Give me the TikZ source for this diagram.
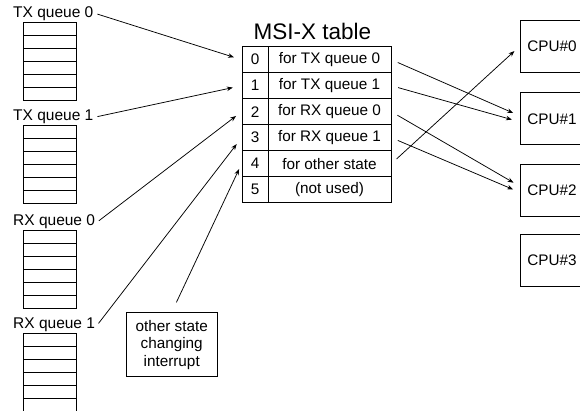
\documentclass[tikz,border=0pt]{standalone}
\usepackage{fontspec}
\setmainfont{Liberation Sans}
\usetikzlibrary{arrows.meta,calc}
\begin{document}
\begin{tikzpicture}[x=1pt,y=-1pt,
  lbl/.style={font=\fontsize{15.5}{18}\selectfont, inner sep=2pt, anchor=west},
  idx/.style={draw, line width=0.75pt, minimum width=26pt, minimum height=26pt, inner sep=0pt, font=\fontsize{15.3}{18}\selectfont},
  txt/.style={draw, line width=0.75pt, minimum width=123pt, minimum height=26pt, inner sep=0pt, font=\fontsize{15.3}{18}\selectfont},
  cpu/.style={draw, line width=0.75pt, minimum width=64pt, minimum height=52pt, inner sep=0pt, font=\fontsize{15.3}{18}\selectfont},
  qcell/.style={draw, line width=0.75pt},
  arr/.style={-{Stealth[length=6pt,width=4.5pt]}, line width=0.75pt}]
\clip (0,0) rectangle (580,410);
\fill[white] (0,0) rectangle (580,410);

% queue labels
\node[lbl] (tq0) at (11,13.5) {TX queue 0};
\node[lbl] (tq1) at (11,117) {TX queue 1};
\node[lbl] (rq0) at (11,222) {RX queue 0};
\node[lbl] (rq1) at (11,325) {RX queue 1};

% queues
\foreach \t in {22.3,125,230.7,333.3} {
  \foreach \k in {0,...,5} {
    \draw[qcell] (23.3,{\t+13*\k}) rectangle (76,{\t+13*\k+13});
  }
}

% title
\node[font=\fontsize{22.5}{26}\selectfont] (title) at (312.5,31) {MSI-X table};

% table
\foreach \i/\s in {0/for TX queue 0,1/for TX queue 1,2/for RX queue 0,3/for RX queue 1,4/for other state,5/(not used)} {
  \node[idx] (i\i) at (255,{59.7+26*\i}) {\i};
  \node[txt] (r\i) at (329.5,{59.7+26*\i}) {\s};
}

% other state box
\node[draw, line width=0.75pt, align=center, minimum width=91pt, minimum height=64pt, inner sep=0pt,
      font=\fontsize{15.3}{17.5}\selectfont] (oth) at (171.7,344.7) {other state\\changing\\interrupt};

% CPUs
\node[cpu] (c0) at (552,46.3) {CPU\#0};
\node[cpu] (c1) at (552,118.8) {CPU\#1};
\node[cpu] (c2) at (552,190.2) {CPU\#2};
\node[cpu] (c3) at (552,260.5) {CPU\#3};

% left arrows
\draw[arr, shorten <=2pt, shorten >=8pt] (tq0.east) -- (i0.west);
\draw[arr, shorten <=2pt, shorten >=9pt] (tq1.east) -- (i1.west);
\draw[arr, shorten <=2pt, shorten >=7pt] (rq0.east) -- (i2.west);
\draw[arr, shorten <=2pt, shorten >=8pt] (rq1.east) -- (i3.west);
\draw[arr, shorten <=11pt, shorten >=6pt] (oth.north) -- (i4.west);

% right arrows
\draw[arr, shorten <=7pt, shorten >=7pt] (r0.east) -- ($(c1.west)+(0,-3)$);
\draw[arr, shorten <=7pt, shorten >=8pt] (r1.east) -- ($(c1.west)+(0,3)$);
\draw[arr, shorten <=7pt, shorten >=7pt] (r2.east) -- ($(c2.west)+(0,-4)$);
\draw[arr, shorten <=7pt, shorten >=7pt] (r3.east) -- ($(c2.west)+(0,2)$);
\draw[arr, shorten <=7pt, shorten >=7pt] (r4.east) -- (c0.west);
\end{tikzpicture}
\end{document}
